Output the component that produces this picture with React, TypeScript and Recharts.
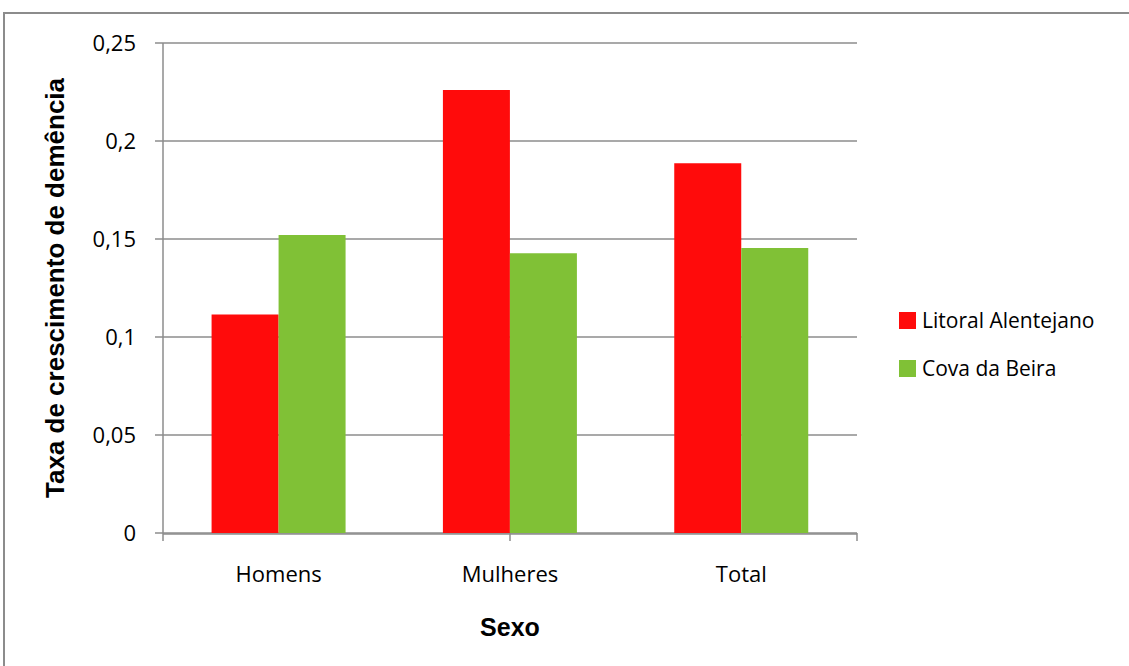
import React from 'react';
import { BarChart, Bar, XAxis, YAxis, CartesianGrid, Legend } from 'recharts';

const categories = ['Homens', 'Mulheres', 'Total'];
const litoralAlentejano = [0.1115, 0.226, 0.1887];
const covaDaBeira = [0.152, 0.1427, 0.1454];
const seriesNames = ['Litoral Alentejano', 'Cova da Beira'];
const yTicks = [0, 0.05, 0.1, 0.15, 0.2, 0.25];
// category boundaries, where Excel puts its x tick marks
const edgeTicks = categories.map((_, i) => i).concat(categories.length);

const data = categories.map((sexo, i) => ({
  sexo,
  litoral: litoralAlentejano[i],
  cova: covaDaBeira[i],
}));

const fmt = (v: number) => String(v).replace('.', ',');

const LegendBox = (props: any) => {
  const items = [...(props.payload || [])].sort(
    (a: any, b: any) => seriesNames.indexOf(a.value) - seriesNames.indexOf(b.value)
  );
  return (
    <div>
      {items.map((p: any) => (
        <div key={p.value} style={{ display: 'flex', alignItems: 'center', height: 48 }}>
          <span style={{ width: 17, height: 17, background: p.color, display: 'inline-block', marginRight: 6 }} />
          <span style={{ fontFamily: '"Open Sans", sans-serif', fontSize: 21, color: '#000' }}>{p.value}</span>
        </div>
      ))}
    </div>
  );
};

const YTitle = (props: any) => {
  const { viewBox } = props;
  const cy = viewBox.y + viewBox.height / 2;
  const cx = 64;
  return (
    <text
      x={cx}
      y={cy}
      transform={`rotate(-90 ${cx} ${cy})`}
      textAnchor="middle"
      fontFamily="Arial, 'Liberation Sans', sans-serif"
      fontWeight="bold"
      fontSize={26}
      fill="#000"
    >
      Taxa de crescimento de demência
    </text>
  );
};

const XTitle = (props: any) => {
  const { viewBox } = props;
  const cx = viewBox.x + viewBox.width / 2;
  return (
    <text
      x={cx}
      y={636}
      textAnchor="middle"
      fontFamily="Arial, 'Liberation Sans', sans-serif"
      fontWeight="bold"
      fontSize={25}
      fill="#000"
    >
      Sexo
    </text>
  );
};

const NoLabel = () => <g />;

export default function App() {
  return (
    <div style={{ position: 'absolute', left: 0, top: 0, width: 1129, height: 666, overflow: 'hidden', background: '#fff' }}>
      <div
        style={{
          position: 'absolute',
          left: 3,
          top: 12,
          width: 1150,
          height: 700,
          border: '2px solid #8c8c8c',
          boxSizing: 'border-box',
        }}
      />
      <div style={{ position: 'absolute', left: 0, top: 0 }}>
        <BarChart
          width={1129}
          height={666}
          data={data}
          margin={{ top: 43, right: 272, left: 103, bottom: 82 }}
          barGap={0}
          barCategoryGap="21%"
        >
          <CartesianGrid vertical={false} stroke="#8c8c8c" strokeWidth={1.5} />
          <XAxis
            type="number"
            domain={[0, categories.length]}
            ticks={edgeTicks}
            allowDataOverflow
            height={1}
            axisLine={false}
            tick={NoLabel}
            tickLine={{ stroke: '#8c8c8c', strokeWidth: 1.5 }}
            tickSize={8}
          />
          <XAxis
            xAxisId="cat"
            dataKey="sexo"
            height={50}
            axisLine={{ stroke: '#8c8c8c', strokeWidth: 1.5 }}
            tickLine={false}
            tickSize={8}
            tickMargin={24}
            tick={{ fill: '#000', fontSize: 22, fontFamily: '"Open Sans", sans-serif' }}
            label={<XTitle />}
          />
          <YAxis
            width={60}
            domain={[0, 0.25]}
            ticks={yTicks}
            tickFormatter={fmt}
            axisLine={{ stroke: '#8c8c8c', strokeWidth: 1.5 }}
            tickLine={{ stroke: '#8c8c8c', strokeWidth: 1.5 }}
            tickSize={8}
            tickMargin={19}
            tick={{ fill: '#000', fontSize: 22, fontFamily: '"Open Sans", sans-serif' }}
            label={<YTitle />}
          />
          <Legend
            layout="horizontal"
            verticalAlign="middle"
            align="center"
            wrapperStyle={{ left: 899, top: 296, width: 230 }}
            content={<LegendBox />}
          />
          <Bar xAxisId="cat" dataKey="litoral" name="Litoral Alentejano" fill="#ff0b0b" isAnimationActive={false} />
          <Bar xAxisId="cat" dataKey="cova" name="Cova da Beira" fill="#80c136" isAnimationActive={false} />
        </BarChart>
      </div>
    </div>
  );
}
